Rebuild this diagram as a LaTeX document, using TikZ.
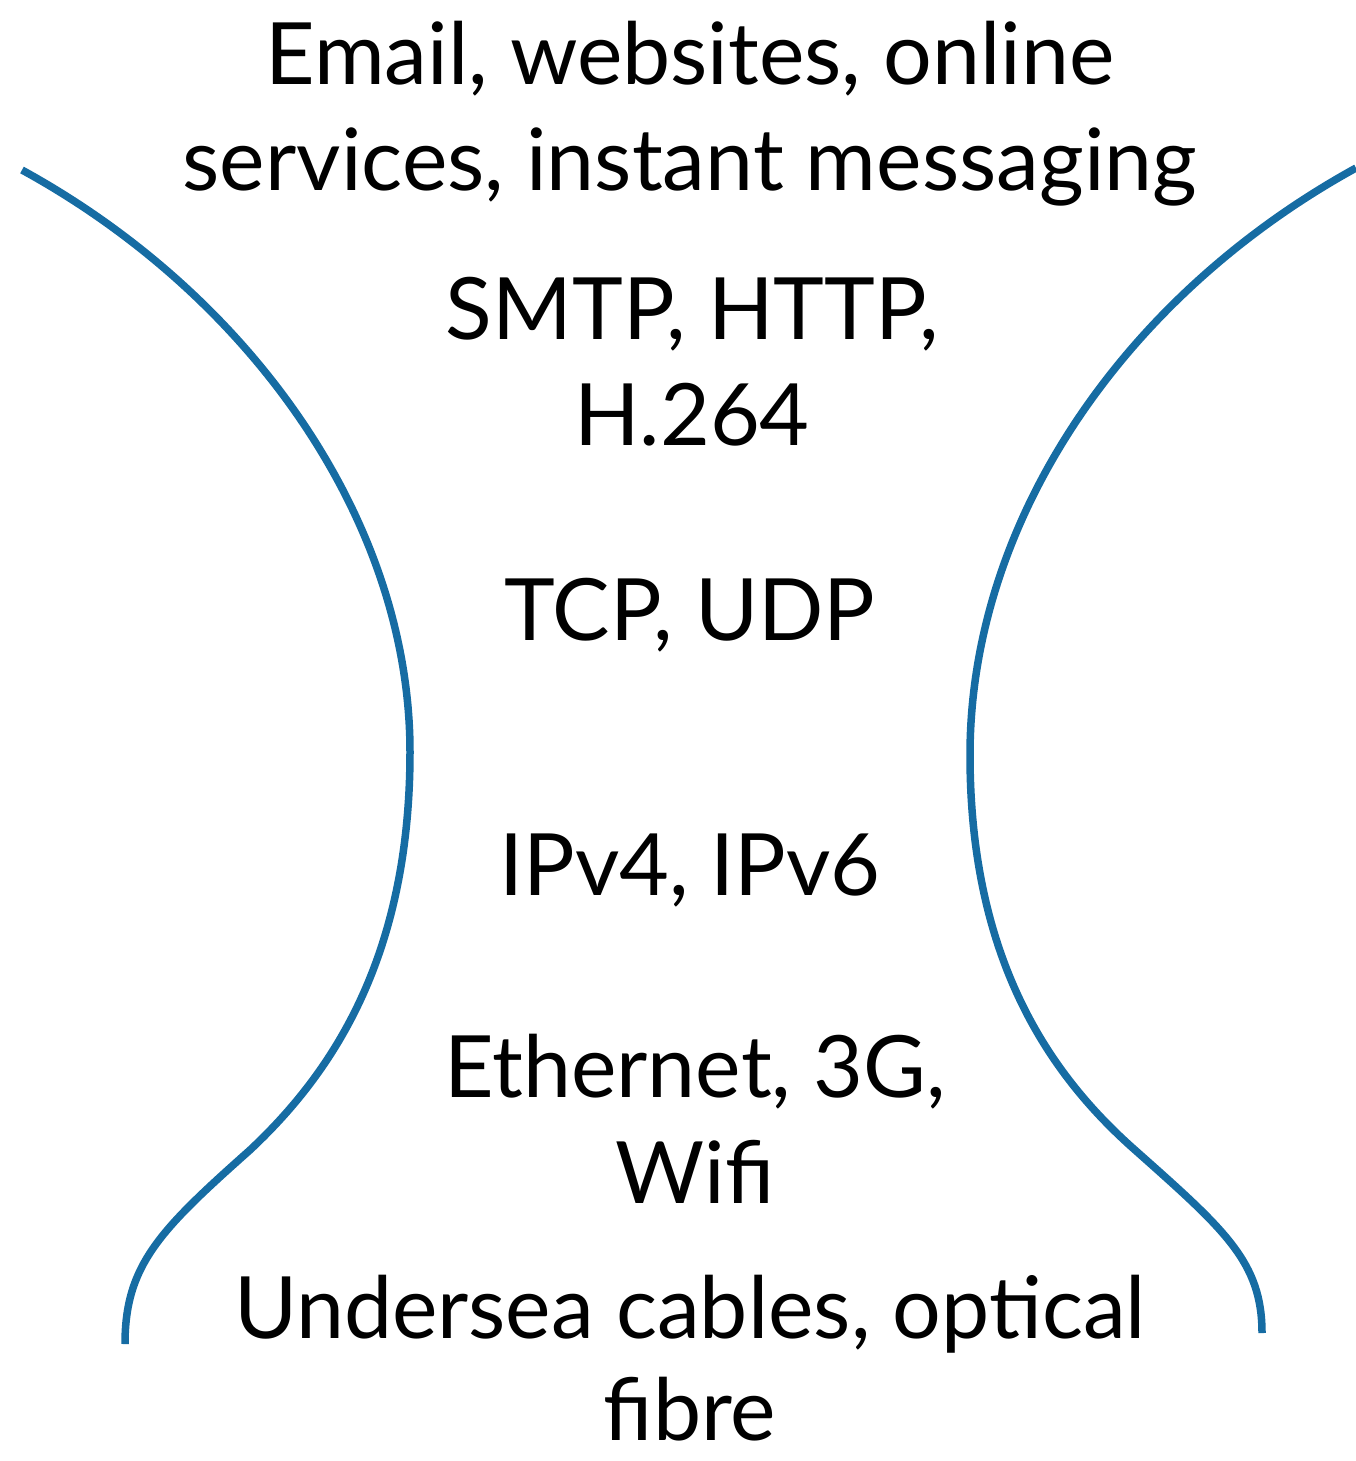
\documentclass[tikz,border=0pt]{standalone}
\usepackage{fontspec}
\setmainfont{Lato}
\definecolor{waist}{RGB}{22,108,163}
\begin{document}
\begin{tikzpicture}[x=1pt,y=-1pt,
  layer/.style={anchor=base, align=center, inner sep=0pt,
    font=\fontsize{86}{106}\selectfont},
  rim/.style={draw=waist, line width=7.5pt}]
\useasboundingbox (0,0) rectangle (1356,1461);
% the two sides of the hourglass
\coordinate (ltop) at (22,170);
\coordinate (lmid) at (410,752);
\coordinate (lbend) at (250,1150);
\coordinate (lend) at (125,1344);
\coordinate (rtop) at (1356,168);
\coordinate (rmid) at (970,755);
\coordinate (rbend) at (1135,1150);
\coordinate (rend) at (1262,1333);
\draw[rim] (ltop) .. controls (250,295) and (410,520) .. (lmid)
  .. controls (410,960) and (330,1075) .. (lbend)
  .. controls (160,1230) and (125,1265) .. (lend);
\draw[rim] (rtop) .. controls (1125,295) and (970,520) .. (rmid)
  .. controls (970,960) and (1050,1075) .. (rbend)
  .. controls (1225,1230) and (1262,1262) .. (rend);
% the layers, top to bottom (each placed on the baseline of its last line)
\node[layer] (app) at (690,190) {Email, websites, online\\services, instant messaging};
\node[layer] (proto) at (692,445) {SMTP, HTTP,\\H.264};
\node[layer] (trans) at (690,640) {TCP, UDP};
\node[layer] (net) at (690,895) {IPv4, IPv6};
\node[layer] (link) at (695,1203) {Ethernet, 3G,\\Wifi};
\node[layer, font=\fontsize{86}{102}\selectfont] (phys) at (690,1440) {Undersea cables, optical\\fibre};
\end{tikzpicture}
\end{document}
